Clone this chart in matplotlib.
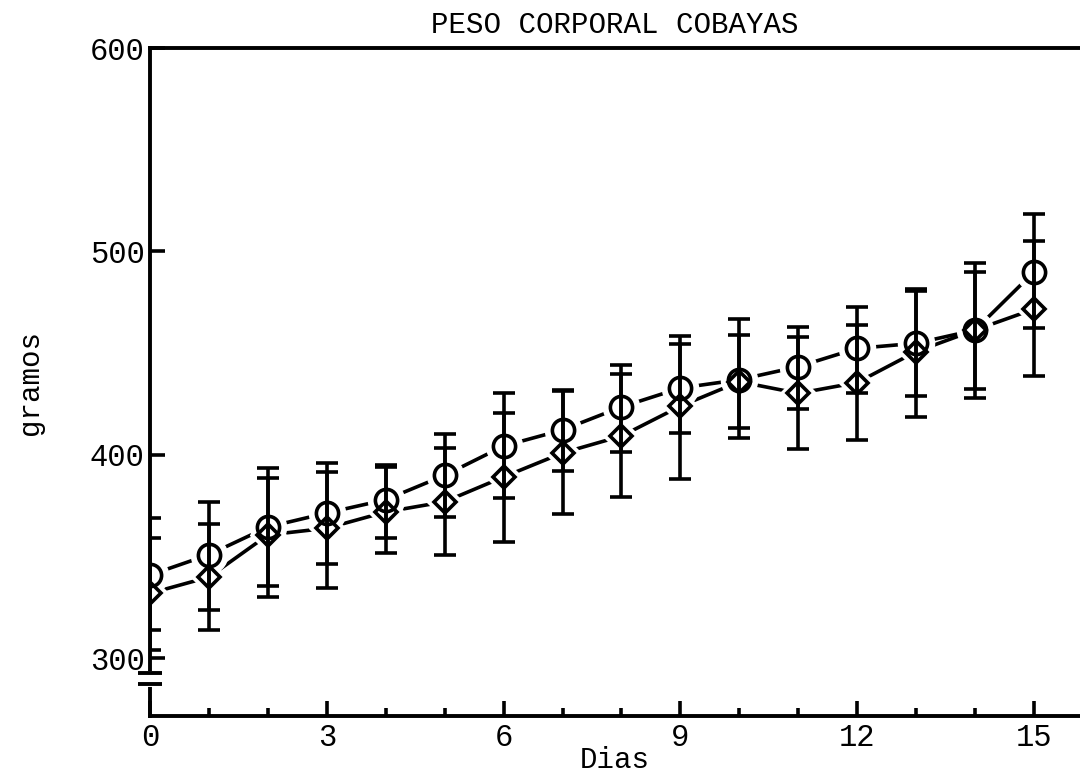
"""
Peso corporal de cobayas: media +/- error por dia, dos grupos
"""

import matplotlib
matplotlib.use('Agg')
import matplotlib.pyplot as plt
import matplotlib.transforms as mtransforms
import numpy as np

# Dias
dias = np.arange(0, 16)

# Grupo circulos (media, extremo superior, extremo inferior)
circulo = [341, 351, 364.6, 371.5, 378, 390, 404.4, 412.3, 423.6, 432.9,
           437, 443.4, 452.4, 454.9, 461.4, 490]
circ_sup = [369, 377, 393.6, 396, 395, 410.3, 430.5, 431.5, 444.2, 454.5,
            459, 463, 472.9, 480.6, 490, 518.4]
circ_inf = [314, 324, 335.6, 346.4, 359, 369.5, 378.9, 392, 401.5, 410.8,
            413.3, 422.6, 430.6, 429.2, 432.4, 462.3]

# Grupo rombos
rombo = [332, 340, 360.7, 364, 372, 377, 389.2, 401, 409.3, 424,
         436, 430.3, 435.6, 450.8, 461.4, 471.7]
rombo_sup = [359, 366, 388.7, 391.6, 394, 403.4, 420.6, 432, 439.8, 458.5,
             467, 457.8, 463.9, 481.5, 494.5, 505.2]
rombo_inf = [304, 314, 330, 334.6, 351.8, 350.9, 357.2, 371, 379.4, 388.2,
             408.4, 402.8, 407.4, 418.8, 427.9, 438.8]

y_ticks = [300, 400, 500, 600]
x_ticks = [0, 3, 6, 9, 12, 15]

plt.rcParams['font.family'] = ['Liberation Mono', 'DejaVu Sans Mono']

fig = plt.figure(figsize=(10.8, 7.72), dpi=100)
ax = fig.add_axes([0.1389, 0.0725, 0.8611, 0.8653])

lw = 2.6
circ = np.array(circulo)
rom = np.array(rombo)

# Lineas de union
ax.plot(dias, circ, color='black', lw=lw, zorder=1, solid_capstyle='butt')
ax.plot(dias, rom, color='black', lw=lw, zorder=1, solid_capstyle='butt')

# Huecos blancos alrededor de los marcadores
ax.plot(dias, circ, 'o', ms=26, mfc='white', mec='white', zorder=2)
ax.plot(dias, rom, 'D', ms=18, mfc='white', mec='white', zorder=2)

# Barras de error
ax.errorbar(dias, circ, yerr=[circ - np.array(circ_inf), np.array(circ_sup) - circ],
            fmt='none', ecolor='black', elinewidth=lw, capsize=8, capthick=lw, zorder=3)
ax.errorbar(dias, rom, yerr=[rom - np.array(rombo_inf), np.array(rombo_sup) - rom],
            fmt='none', ecolor='black', elinewidth=lw, capsize=8, capthick=lw, zorder=3)

# Marcadores
ax.plot(dias, circ, 'o', ms=16, mfc='none', mec='black', mew=lw, zorder=4)
ax.plot(dias, rom, 'D', ms=11.5, mfc='none', mec='black', mew=lw, zorder=4)

ax.set_xlim(0, 15.78)
ax.set_ylim(271.7, 600)

ax.set_xticks(x_ticks)
ax.set_xticks(dias, minor=True)
ax.set_yticks(y_ticks)
ax.tick_params(axis='both', which='major', direction='in', length=11, width=2.6,
               labelsize=22)
ax.tick_params(axis='x', which='major', pad=5)
ax.tick_params(axis='y', which='major', pad=4)
ax.tick_params(axis='x', which='minor', direction='in', length=6, width=2.6)

for s in ['left', 'top', 'bottom']:
    ax.spines[s].set_linewidth(2.8)
ax.spines['right'].set_visible(False)

# Corte del eje y
trans = mtransforms.blended_transform_factory(ax.transAxes, ax.transData)
ax.plot([0, 0], [287.8, 292.6], color='white', lw=5, transform=trans,
        clip_on=False, zorder=5)
for yb in [287.5, 292.9]:
    ax.plot([-0.013, 0.013], [yb, yb], color='black', lw=2.8, transform=trans,
            clip_on=False, zorder=6, solid_capstyle='butt')

ax.set_title('PESO CORPORAL COBAYAS', fontsize=21, pad=11)
ax.set_xlabel('Dias', fontsize=21)
ax.xaxis.set_label_coords(0.5, -0.066)
ax.xaxis.label.set_va('center')
ax.set_ylabel('gramos', fontsize=21)
ax.yaxis.set_label_coords(-0.129, 0.5)
ax.yaxis.label.set_va('center')

plt.savefig('out.png', dpi=100)
plt.close(fig)
